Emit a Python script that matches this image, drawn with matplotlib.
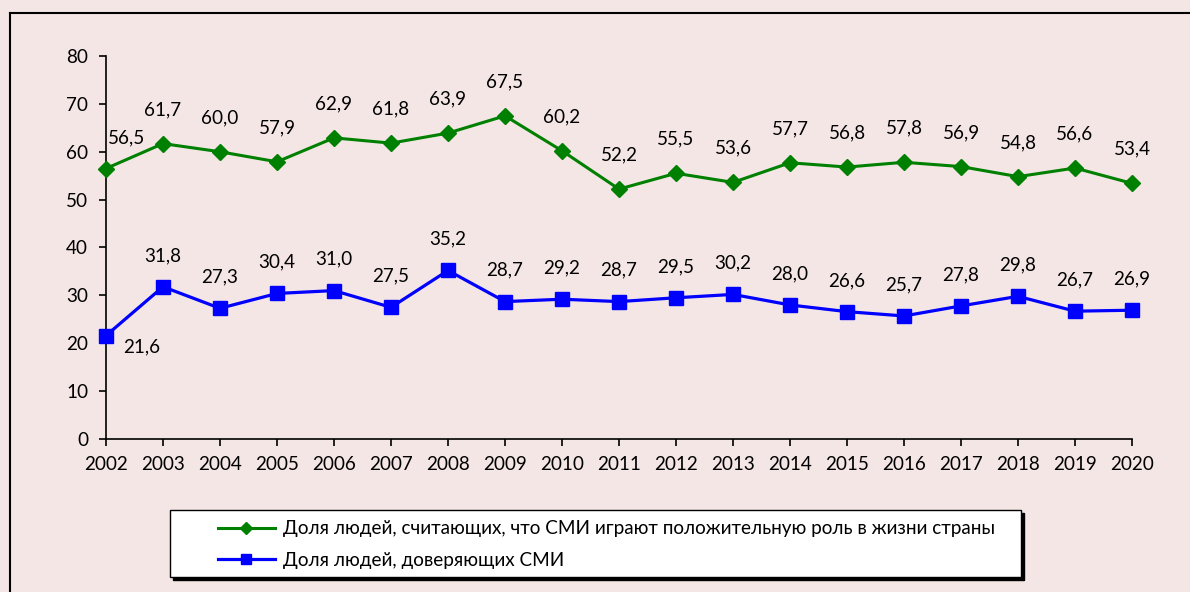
import matplotlib
matplotlib.use("Agg")
import matplotlib.pyplot as plt
from matplotlib.patches import Rectangle
from matplotlib.lines import Line2D

years = ["2002", "2003", "2004", "2005", "2006", "2007", "2008", "2009", "2010",
         "2011", "2012", "2013", "2014", "2015", "2016", "2017", "2018", "2019", "2020"]
positive_role = [56.5, 61.7, 60.0, 57.9, 62.9, 61.8, 63.9, 67.5, 60.2,
                 52.2, 55.5, 53.6, 57.7, 56.8, 57.8, 56.9, 54.8, 56.6, 53.4]
trust = [21.6, 31.8, 27.3, 30.4, 31.0, 27.5, 35.2, 28.7, 29.2,
         28.7, 29.5, 30.2, 28.0, 26.6, 25.7, 27.8, 29.8, 26.7, 26.9]
label_positive = "Доля людей, считающих, что СМИ играют положительную роль в жизни страны"
label_trust = "Доля людей, доверяющих СМИ"
yticks = [0, 10, 20, 30, 40, 50, 60, 70, 80]

plt.rcParams['font.family'] = ['Lato', 'DejaVu Sans']

W, H = 1190, 592
BG = '#F5E6E6'
fig = plt.figure(figsize=(W / 100, H / 100), dpi=100, facecolor=BG)

# outer frame (left & top visible)
fig.add_artist(Line2D([9.5 / W, 9.5 / W], [0, 1 - 12.5 / H], transform=fig.transFigure,
                      color='black', lw=1.5))
fig.add_artist(Line2D([9.5 / W, 1], [1 - 12.5 / H, 1 - 12.5 / H], transform=fig.transFigure,
                      color='black', lw=1.5))

ax = fig.add_axes([106 / W, 1 - 439 / H, (1132 - 106) / W, (439 - 56) / H])
ax.set_facecolor(BG)
x = list(range(len(years)))

ax.plot(x, positive_role, color='#008000', lw=2.2, marker='D', ms=8.5,
        markerfacecolor='#008000', markeredgecolor='#008000', label=label_positive,
        zorder=3, clip_on=False)
ax.plot(x, trust, color='#0000FF', lw=2.3, marker='s', ms=10,
        markerfacecolor='#0000FF', markeredgecolor='#0000FF', label=label_trust,
        zorder=3, clip_on=False)

FS = 13.6
for i, v in enumerate(positive_role):
    off = (15, 22) if i == 0 else (0, 24.5)
    ax.annotate(f"{v:.1f}".replace('.', ','), (i, v), xytext=off, textcoords='offset points',
                ha='center', va='center', fontsize=FS, color='black')
for i, v in enumerate(trust):
    off = (26, -8) if i == 0 else (0, 22.5)
    ax.annotate(f"{v:.1f}".replace('.', ','), (i, v), xytext=off, textcoords='offset points',
                ha='center', va='center', fontsize=FS, color='black')

ax.set_xlim(0, len(years) - 1)
ax.set_ylim(0, 80)
ax.set_yticks(yticks)
ax.set_xticks(x)
ax.set_xticklabels(years)
for s in ['top', 'right']:
    ax.spines[s].set_visible(False)
for s in ['left', 'bottom']:
    ax.spines[s].set_linewidth(1.2)
    ax.spines[s].set_color('black')
ax.tick_params(axis='y', direction='out', length=5, width=1.2, pad=8, labelsize=FS)
ax.tick_params(axis='x', direction='out', length=5, width=1.2, pad=7, labelsize=FS)

# legend box with shadow
lx0, ly0, lx1, ly1 = 170, 510, 1021, 577
fig.add_artist(Rectangle(((lx0 + 3) / W, 1 - (ly1 + 3) / H), (lx1 - lx0) / W, (ly1 - ly0) / H,
                         transform=fig.transFigure, facecolor='black', edgecolor='black', lw=1))
fig.add_artist(Rectangle((lx0 / W, 1 - ly1 / H), (lx1 - lx0) / W, (ly1 - ly0) / H,
                         transform=fig.transFigure, facecolor='white', edgecolor='black', lw=1))
leg = fig.legend(loc='center left', bbox_to_anchor=(218 / W, 1 - 544.5 / H),
                 frameon=False, fontsize=FS, handlelength=3.0, handletextpad=0.45,
                 borderpad=0, borderaxespad=0, labelspacing=0.75, numpoints=1,
                 markerscale=0.75)

fig.savefig('out.png', dpi=100, facecolor=BG)
